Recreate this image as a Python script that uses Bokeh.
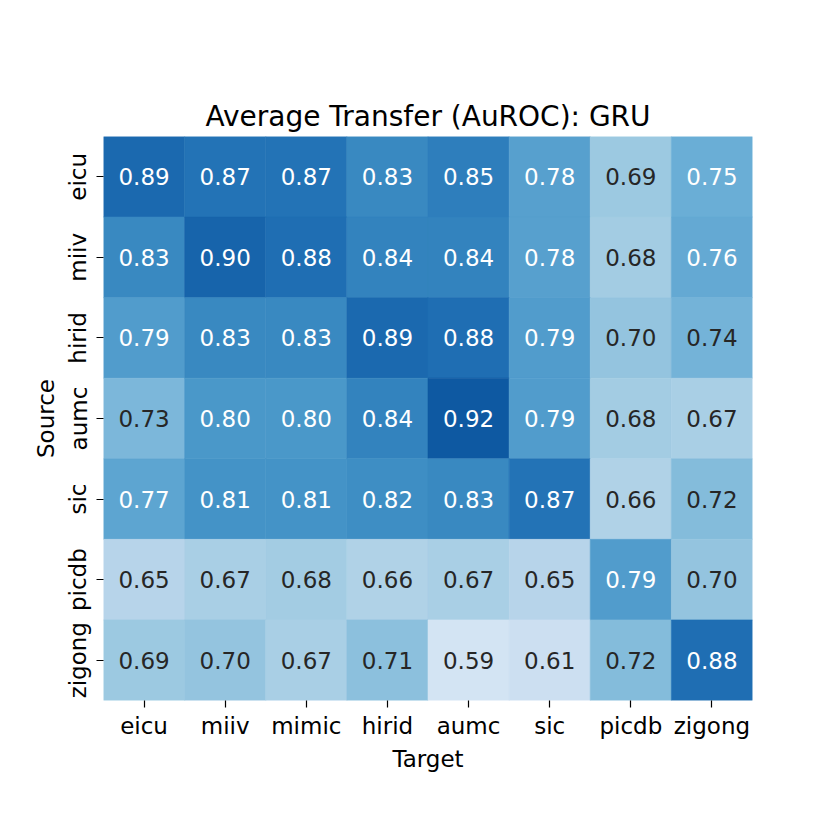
from bokeh.plotting import figure
from bokeh.models import ColumnDataSource, LinearColorMapper, FactorRange
from bokeh.transform import transform
from bokeh.core.properties import value
from bokeh.embed import file_html
from bokeh.resources import INLINE
try:
    from bokeh.palettes import Blues256
    blues = list(reversed(Blues256))
except Exception:
    from bokeh.palettes import Blues9
    blues = list(reversed(Blues9))

targets = ["eicu", "miiv", "mimic", "hirid", "aumc", "sic", "picdb", "zigong"]
sources = ["eicu", "miiv", "hirid", "aumc", "sic", "picdb", "zigong"]

row_eicu = [0.89, 0.87, 0.87, 0.83, 0.85, 0.78, 0.69, 0.75]
row_miiv = [0.83, 0.90, 0.88, 0.84, 0.84, 0.78, 0.68, 0.76]
row_hirid = [0.79, 0.83, 0.83, 0.89, 0.88, 0.79, 0.70, 0.74]
row_aumc = [0.73, 0.80, 0.80, 0.84, 0.92, 0.79, 0.68, 0.67]
row_sic = [0.77, 0.81, 0.81, 0.82, 0.83, 0.87, 0.66, 0.72]
row_picdb = [0.65, 0.67, 0.68, 0.66, 0.67, 0.65, 0.79, 0.70]
row_zigong = [0.69, 0.70, 0.67, 0.71, 0.59, 0.61, 0.72, 0.88]

rows = [row_eicu, row_miiv, row_hirid, row_aumc, row_sic, row_picdb, row_zigong]

xs, ys, vals, labels, tcolors = [], [], [], [], []
for s, r in zip(sources, rows):
    for t, v in zip(targets, r):
        xs.append(t)
        ys.append(s)
        vals.append(v)
        labels.append(f"{v:.2f}")
        tcolors.append("white" if v >= 0.745 else "#262626")

src = ColumnDataSource(dict(x=xs, y=ys, v=vals, label=labels, tc=tcolors))
mapper = LinearColorMapper(palette=blues, low=0.5, high=1.0)

FONT = "DejaVu Sans"
p = figure(width=814, height=814,
           x_range=FactorRange(*targets),
           y_range=FactorRange(*reversed(sources)),
           output_backend="svg", toolbar_location=None,
           title="Average Transfer (AuROC): GRU",
           min_border_left=103, min_border_right=62,
           min_border_top=136, min_border_bottom=114)

p.rect(x="x", y="y", width=1, height=1, source=src,
       fill_color=transform("v", mapper), line_color=transform("v", mapper),
       line_width=0.6)
p.text(x="x", y="y", text="label", source=src, text_color="tc",
       text_align="center", text_baseline="middle",
       text_font=value(FONT), text_font_size="23px")

p.title.align = "center"
p.title.text_font = FONT
p.title.text_font_size = "28px"
p.title.text_font_style = "normal"
p.title.text_color = "black"
p.title.standoff = 8

p.xaxis.axis_label = "Target"
p.yaxis.axis_label = "Source"
for ax in (p.xaxis, p.yaxis):
    ax.axis_line_color = None
    ax.major_tick_out = 7
    ax.major_tick_in = 0
    ax.major_tick_line_color = "black"
    ax.major_tick_line_width = 1.2
    ax.minor_tick_line_color = None
    ax.major_label_text_font = FONT
    ax.major_label_text_font_size = "23px"
    ax.major_label_text_color = "black"
    ax.axis_label_text_font = FONT
    ax.axis_label_text_font_size = "23px"
    ax.axis_label_text_font_style = "normal"
    ax.axis_label_text_color = "black"
    ax.major_label_standoff = 5
    ax.axis_label_standoff = 4
p.yaxis.major_label_orientation = "vertical"

p.xgrid.visible = False
p.ygrid.visible = False
p.outline_line_color = None

open("out.html", "w").write(file_html(p, INLINE))
